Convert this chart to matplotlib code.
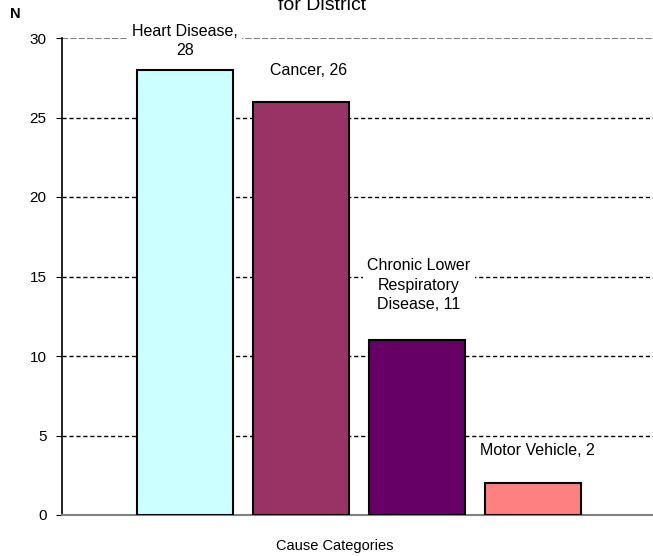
import matplotlib.pyplot as plt

plt.rcParams['font.family'] = ['Liberation Sans', 'DejaVu Sans']

# данные
causes = ['Heart Disease', 'Cancer', 'Chronic Lower\nRespiratory\nDisease', 'Motor Vehicle']
counts = [28, 26, 11, 2]
colors = ['#CCFFFF', '#993366', '#660066', '#FF8080']
label_texts = ['Heart Disease,\n28', 'Cancer, 26', 'Chronic Lower\nRespiratory\nDisease, 11', 'Motor Vehicle, 2']
label_offsets = [29, 31, 55, 33]  # в пикселях над вершиной столбца
label_dx = [0, 8, 2, 4]

fig = plt.figure(figsize=(6.53, 5.56), dpi=100)
ax = fig.add_axes([62 / 653, 1 - 515 / 556, 1 - 62 / 653, (515 - 38) / 556])

x = range(len(counts))
ax.bar(x, counts, width=96 / 116, color=colors, edgecolor='black', linewidth=1.5, zorder=3)

ax.set_xlim(-123 / 116, (653 - 185) / 116)
ax.set_ylim(0, 30)
ax.set_yticks(range(0, 31, 5))
ax.set_xticks([])

# сетка
for yv in range(5, 30, 5):
    ax.axhline(yv, color='black', ls=(0, (3, 2)), lw=1, zorder=1)
ax.axhline(30, color='#808080', ls=(0, (3, 1)), lw=1.5, zorder=1)

for s in ['top', 'right']:
    ax.spines[s].set_visible(False)
ax.spines['left'].set_linewidth(1.2)
ax.spines['bottom'].set_color('#808080')
ax.spines['bottom'].set_linewidth(1.5)
ax.tick_params(axis='y', length=4, labelsize=11, pad=7)

# подписи
for i, (txt, v, off, dx) in enumerate(zip(label_texts, counts, label_offsets, label_dx)):
    ax.annotate(txt, (i, v), xytext=(dx * 0.72, off * 0.72), textcoords='offset points',
                ha='center', va='center', fontsize=11.5, linespacing=1.35,
                bbox=dict(boxstyle='square,pad=0.25', fc='white', ec='none'),
                zorder=5, annotation_clip=False)

fig.text(322 / 653, 1 - 6 / 556, 'for District', ha='center', va='center', fontsize=14)
fig.text(10 / 653, 1 - 14 / 556, 'N', ha='left', va='center', fontsize=10.5, fontweight='bold')
fig.text(335 / 653, 1 - 546 / 556, 'Cause Categories', ha='center', va='center', fontsize=10.5)

fig.savefig('out.png', dpi=100)
